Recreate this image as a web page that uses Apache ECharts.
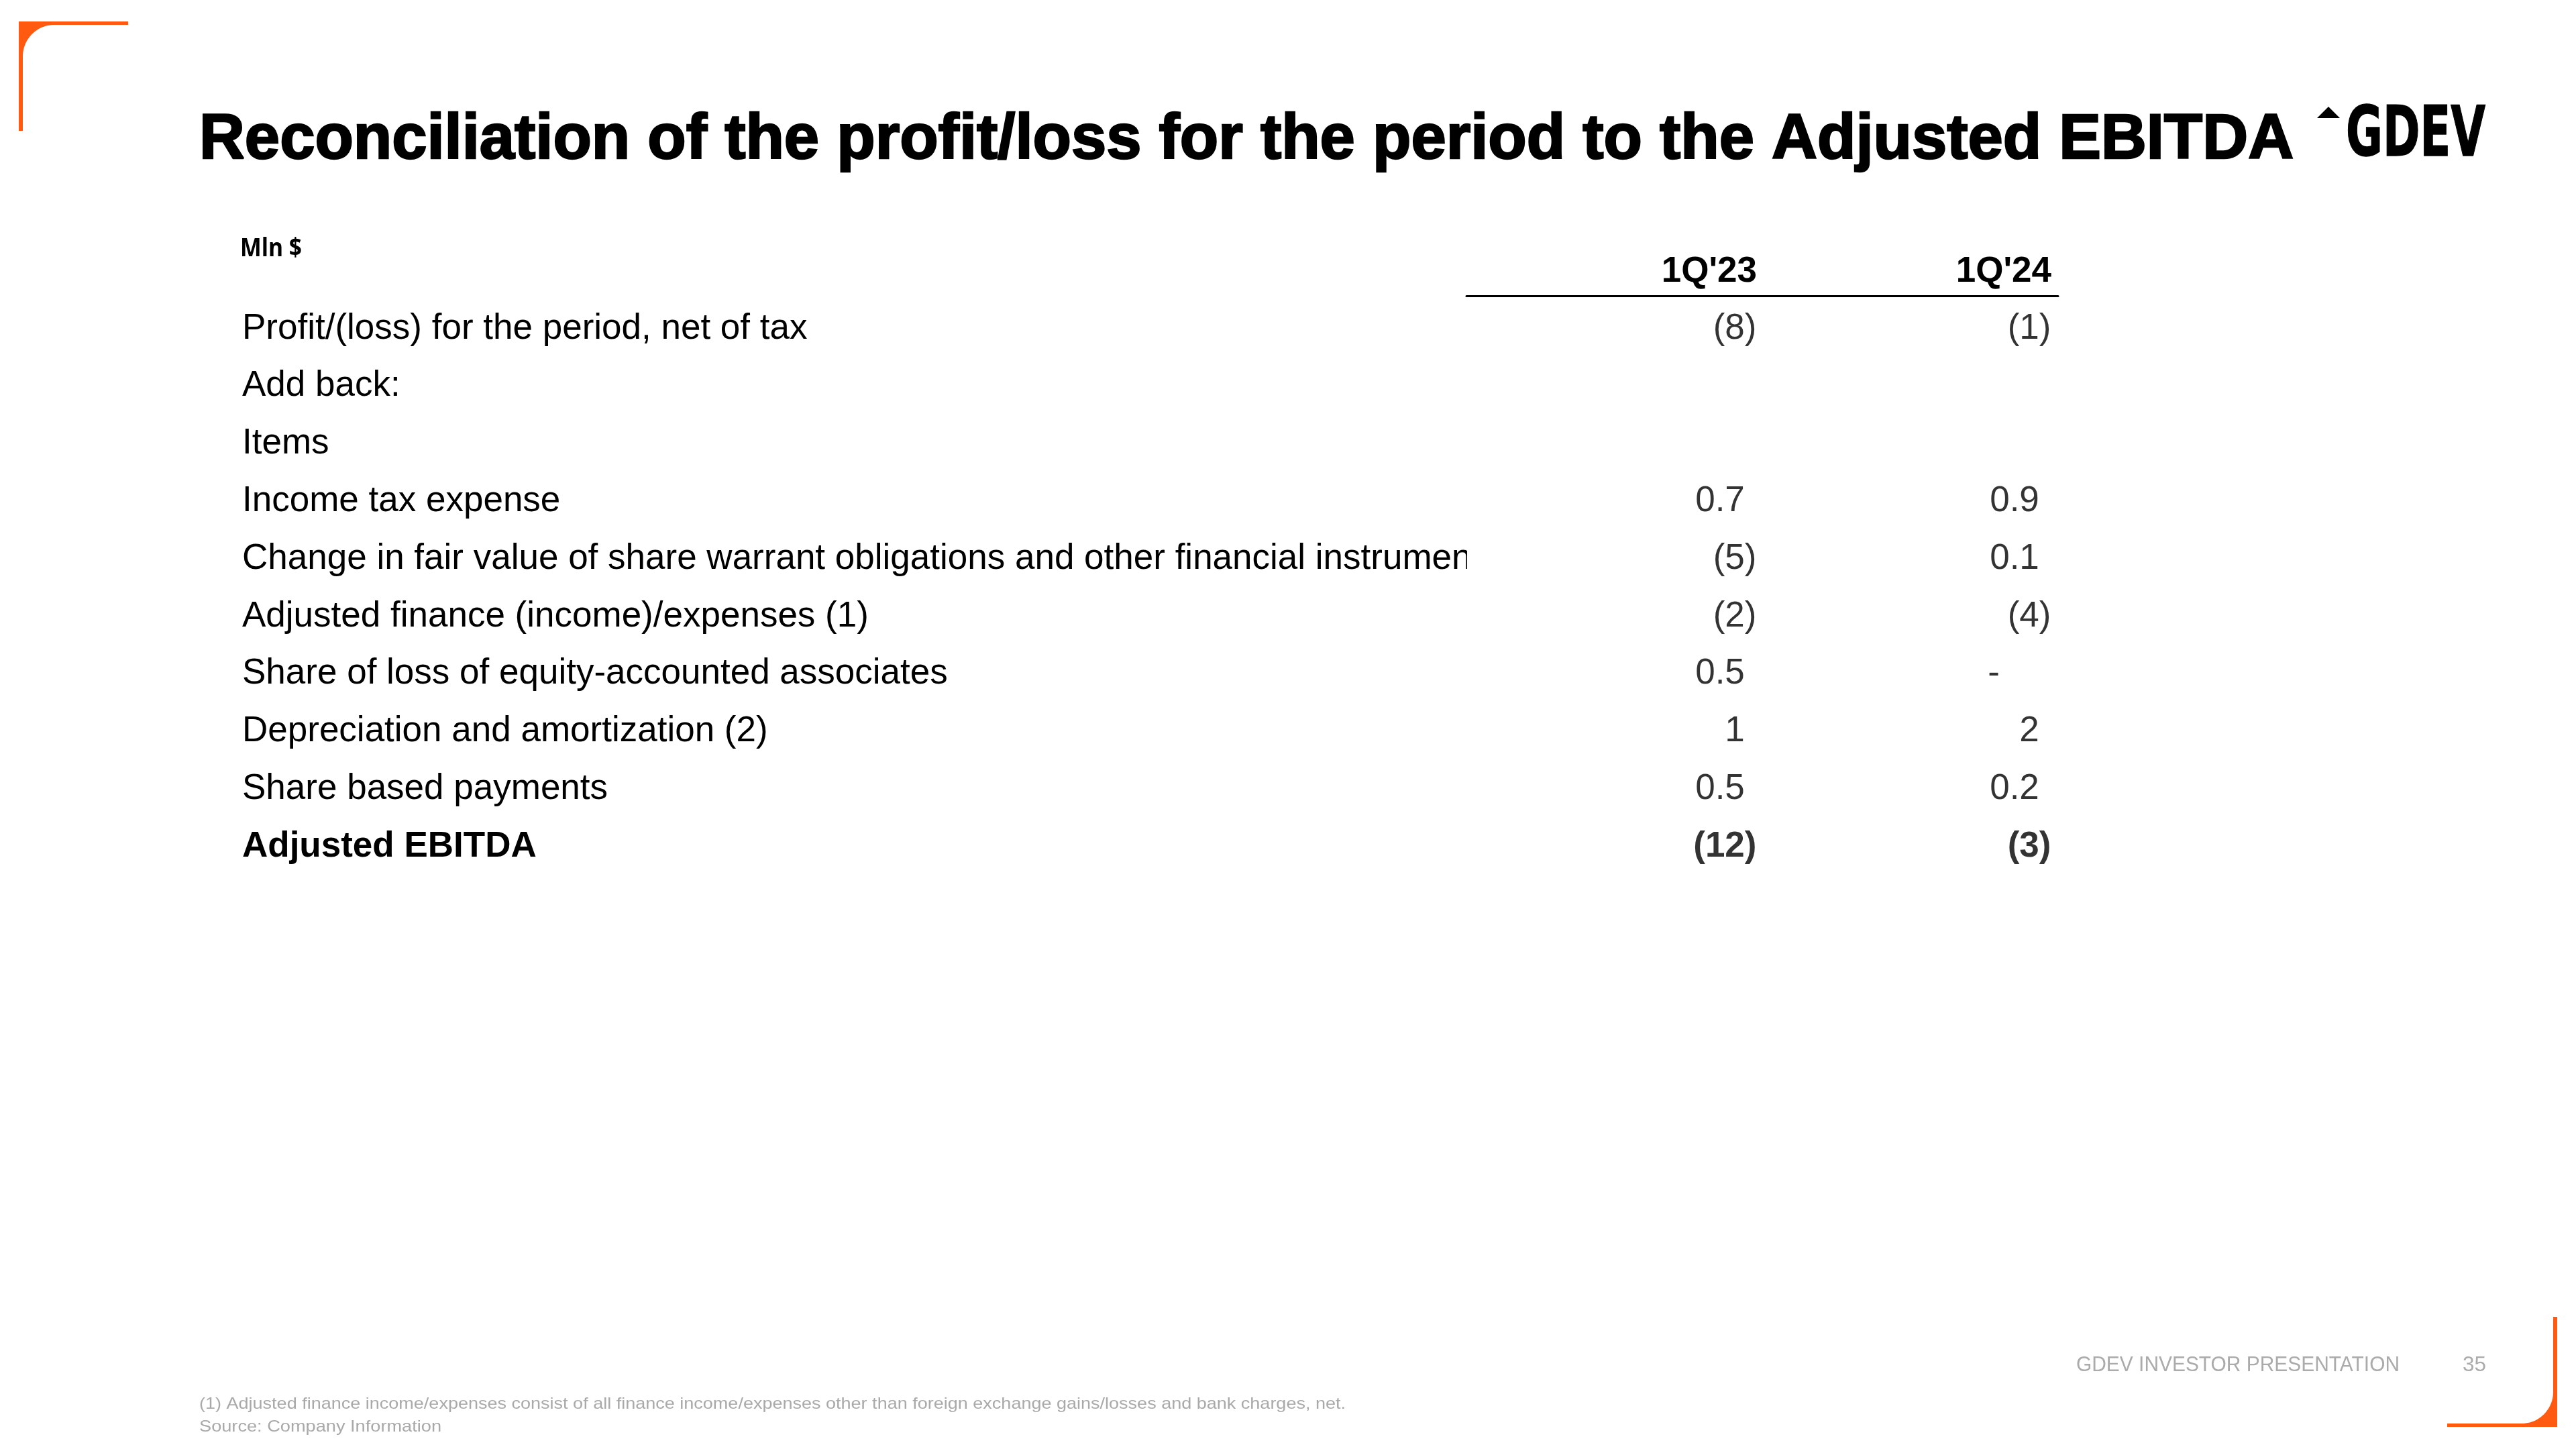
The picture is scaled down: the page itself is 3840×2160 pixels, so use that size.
<!DOCTYPE html>
<html>
<head>
<meta charset="utf-8">
<script src="https://cdn.jsdelivr.net/npm/echarts@6/dist/echarts.min.js"></script>
<style>
html,body{margin:0;padding:0;background:#fff;}
#chart{width:3840px;height:2160px;}
</style>
</head>
<body>
<div id="chart"></div>
<script>
// ---------- data ----------
const titleText = 'Reconciliation of the profit/loss for the period to the Adjusted EBITDA';
const unitLabel = 'Mln $';
const periods = ["1Q'23", "1Q'24"];
const rowLabels = [
  'Profit/(loss) for the period, net of tax',
  'Add back:',
  'Items',
  'Income tax expense',
  'Change in fair value of share warrant obligations and other financial instruments',
  'Adjusted finance (income)/expenses (1)',
  'Share of loss of equity-accounted associates',
  'Depreciation and amortization (2)',
  'Share based payments',
  'Adjusted EBITDA'
];
const values1Q23 = [-8, null, null, 0.7, -5, -2, 0.5, 1, 0.5, -12];
const values1Q24 = [-1, null, null, 0.9, 0.1, -4, 0, 2, 0.2, -3];
const boldRows = ['Adjusted EBITDA'];
const footnotes = [
  '(1) Adjusted finance income/expenses consist of all finance income/expenses other than foreign exchange gains/losses and bank charges, net.',
  'Source: Company Information'
];
const footerText = 'GDEV INVESTOR PRESENTATION';
const pageNumber = '35';
const logoText = 'GDEV';

// ---------- helpers ----------
const FONT = '"Liberation Sans", Arial, Helvetica, sans-serif';
const ORANGE = '#FF5A10';
const mctx = document.createElement('canvas').getContext('2d');
function measure(text, weight, size, family) {
  mctx.font = weight + ' ' + size + 'px ' + family;
  return mctx.measureText(text).width;
}
function fitText(text, x, y, size, weight, family, color, targetWidth, strokeW) {
  const w = measure(text, weight, size, family);
  const s = targetWidth ? targetWidth / w : 1;
  const st = {
    text: text, x: 0, y: 0, fill: color,
    fontSize: size, fontWeight: weight, fontFamily: family,
    align: 'left', verticalAlign: 'middle',
    textAlign: 'left', textVerticalAlign: 'middle'
  };
  if (strokeW) { st.stroke = color; st.lineWidth = strokeW; }
  return { type: 'text', x: x, y: y, scaleX: s, originX: 0, originY: 0, silent: true, z: 10, style: st };
}
function arcPoints(cx, cy, r, a0, a1, n) {
  const pts = [];
  for (let i = 0; i <= n; i++) {
    const a = (a0 + (a1 - a0) * i / n) * Math.PI / 180;
    pts.push([cx + r * Math.cos(a), cy + r * Math.sin(a)]);
  }
  return pts;
}
// top-left bracket
const tlPts = [[28, 32], [191, 32], [191, 37], [81, 37]]
  .concat(arcPoints(81, 84, 47, 270, 180, 24))
  .concat([[34, 195], [28, 195]]);
// bottom-right bracket
const brPts = [[3812, 1963], [3812, 2127], [3648, 2127], [3648, 2122], [3759, 2122]]
  .concat(arcPoints(3759, 2075, 47, 90, 0, 24))
  .concat([[3806, 1963]]);

function fmtValue(v) {
  if (v < 0) return '(' + Math.abs(v) + ')';
  if (v === 0) return '-{h|00)}';
  return v + '{h|)}';
}
function seriesData(colIndex, values) {
  const out = [];
  rowLabels.forEach(function (r, k) {
    if (values[k] === null || values[k] === undefined) return;
    const item = { value: [colIndex + 1, r, values[k]] };
    if (boldRows.indexOf(r) >= 0) item.label = { fontWeight: 'bold' };
    out.push(item);
  });
  return out;
}

const rowBand = 85.8;
const gridTop = 447.1;
const axisLineY = 441;
const labelLeft = 361;
const gridLeft = 2186;
const gridRightEdge = 3068;
// the long label is clipped at the table's column edge in the original
const clipRow = 4;
const clipY = gridTop + rowBand * (clipRow + 0.5);

const chart = echarts.init(document.getElementById('chart'), null, { renderer: 'canvas' });
const option = {
  animation: false,
  backgroundColor: '#ffffff',
  grid: {
    left: gridLeft, right: 3840 - gridRightEdge, top: gridTop, height: rowBand * rowLabels.length,
    containLabel: false, outerBoundsMode: 'none'
  },
  xAxis: {
    type: 'value', position: 'top', min: 0.0137, max: 2.0228, offset: gridTop - axisLineY,
    axisLine: { show: true, onZero: false, lineStyle: { color: '#000', width: 3 } },
    axisTick: { show: false }, splitLine: { show: false },
    axisLabel: {
      customValues: [1, 2],
      formatter: function (v) { return periods[Math.round(v) - 1] || ''; },
      align: 'right', margin: 9,
      fontFamily: FONT, fontSize: 53, fontWeight: 'bold', color: '#000'
    }
  },
  yAxis: {
    type: 'category', data: rowLabels, inverse: true,
    axisLine: { show: false }, axisTick: { show: false }, splitLine: { show: false },
    axisLabel: {
      interval: 0, align: 'left', margin: gridLeft - labelLeft,
      fontFamily: FONT, fontSize: 53, color: '#000',
      formatter: function (v) { return boldRows.indexOf(v) >= 0 ? '{b|' + v + '}' : v; },
      rich: { b: { fontFamily: FONT, fontSize: 53, fontWeight: 'bold', color: '#000' } }
    }
  },
  series: [values1Q23, values1Q24].map(function (vals, i) {
    return {
      type: 'scatter', name: periods[i], symbolSize: 1,
      itemStyle: { color: 'rgba(0,0,0,0)' },
      data: seriesData(i, vals),
      label: {
        show: true, position: 'left', distance: 0,
        fontFamily: FONT, fontSize: 53, color: '#000',
        formatter: function (p) { return fmtValue(p.value[2]); },
        rich: { h: { fontFamily: FONT, fontSize: 53, color: 'rgba(0,0,0,0)' } }
      }
    };
  }),
  graphic: {
    elements: [
      { type: 'rect', silent: true, z: 50, shape: { x: gridLeft + 1, y: clipY - 38, width: 200, height: 76 }, style: { fill: '#ffffff' } },
      { type: 'polygon', silent: true, shape: { points: tlPts }, style: { fill: ORANGE } },
      { type: 'polygon', silent: true, shape: { points: brPts }, style: { fill: ORANGE } },
      fitText(titleText, 297, 210, 94, 'bold', FONT, '#000', 3122, 2.5),
      { type: 'polygon', silent: true, shape: { points: [[3454, 176], [3471, 159], [3488, 176]] }, style: { fill: '#000' } },
      fitText(logoText, 3497, 205, 104, 'bold', '"DejaVu Sans", sans-serif', '#000', 208, 1.5),
      fitText(unitLabel, 358, 371, 38, 'bold', '"Open Sans", sans-serif', '#000', 92),
      fitText(footnotes[0], 297, 2093, 24, 'normal', FONT, '#a9a9a9', 1709),
      fitText(footnotes[1], 297, 2127, 24, 'normal', FONT, '#a9a9a9', 361),
      fitText(footerText, 3095, 2035, 31, 'normal', FONT, '#ababab', 482),
      fitText(pageNumber, 3671, 2035, 31, 'normal', FONT, '#ababab', 35)
    ]
  }
};
chart.setOption(option);
</script>
</body>
</html>
